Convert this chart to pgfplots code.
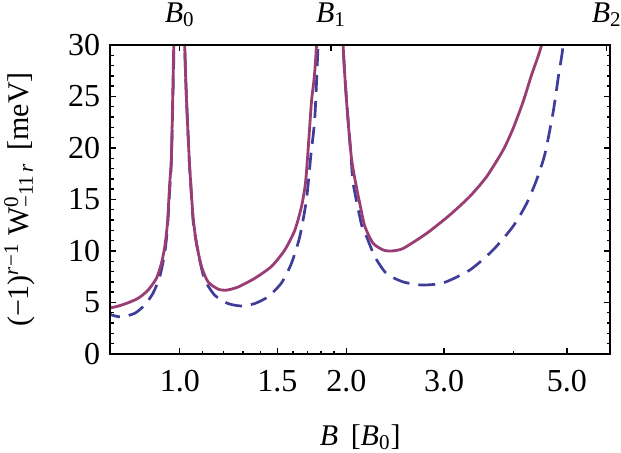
\documentclass[border=0pt]{standalone}
\usepackage{fontspec}
\setmainfont{Liberation Serif}
\usepackage{pgfplots}
\pgfplotsset{compat=1.18}
\definecolor{solidc}{rgb}{0.6,0.24,0.456}
\definecolor{dashc}{rgb}{0.247,0.24,0.6}

\begin{document}
\fontsize{15}{18}\selectfont
\begin{tikzpicture}
\begin{axis}[
  scale only axis, width=249.75pt, height=154.5pt,
  xmode=log, xmin=0.75, xmax=5.98, ymin=0, ymax=30,
  tick align=inside,
  major tick length=2.8pt, minor tick length=1.6pt,
  every tick/.style={black, line width=0.7pt},
  axis line style={line width=1pt},
  /pgf/number format/assume math mode=true,
  tick label style={font=\fontsize{16}{19}\selectfont},
  name=main,
  xtick={1,1.5,2,3,5}, xticklabels={1.0,1.5,2.0,3.0,5.0},
  minor xtick={1.1,1.2,1.3,1.4,1.6,1.7,1.8,1.9,4},
  xtick pos=bottom,
  ytick={0,5,...,30}, minor ytick={0,1,...,30},
  ytick pos=both, yticklabel pos=left,
  xticklabel style={yshift=-3pt},
  every axis x label/.style={at={(axis description cs:0.5,-0.27)}, anchor=center},
  every axis y label/.style={at={(axis description cs:-0.182,0.5)}, anchor=center, rotate=90},
  xlabel={\textit{B}\, [\textit{B}\textsubscript{0}]},
  ylabel={(−1)\textsuperscript{\textit{r}−1} W\rlap{\textsuperscript{0}}\textsubscript{−11\,\textit{r}}\, [meV]},
]
\addplot[dashc, line width=1.35pt, dash pattern=on 8.5pt off 4.5pt, smooth, tension=0.4] coordinates {
(0.732,4.27) (0.753,3.8) (0.785,3.6) (0.8294,3.95) (0.8646,4.76) (0.8949,5.9)
(0.9202,7.5) (0.9395,9.8) (0.9501,12.2) (0.9593,16.0) (0.9661,19.0) (0.9766,30)
(1.0,60) (1.021,30) (1.0394,19.3) (1.0468,16.4) (1.0569,13.0) (1.0644,11.7)
(1.0867,9.1) (1.1096,7.2) (1.1567,5.7) (1.2224,4.9) (1.2924,4.66) (1.366,4.9)
(1.4437,5.56) (1.5264,6.9) (1.5911,8.8) (1.647,11.4) (1.6936,15.0) (1.7241,19.2)
(1.7530,22.9) (1.7773,30) (1.876,60) (1.972,30) (2.0361,19.5) (2.0556,16.6)
(2.1137,13.3) (2.143,12.0) (2.1735,11.4) (2.2498,9.45) (2.3620,7.8) (2.5307,7.0)
(2.732,6.7) (2.9886,6.9) (3.3393,8.15) (3.6792,10.1) (3.9983,12.4) (4.2276,14.6)
(4.4071,16.9) (4.5618,19.4) (4.7220,23.5) (4.8212,26.8) (4.9226,30) (5.1,38)
};
\addplot[solidc, line width=1.4pt, smooth, tension=0.4] coordinates {
(0.732,4.76) (0.753,4.5) (0.7956,4.85) (0.8408,5.4) (0.8765,6.2) (0.9077,7.35)
(0.9267,8.8) (0.9395,10.4) (0.9501,12.7) (0.9593,16.6) (0.9661,19.3) (0.9754,30)
(1.0,60) (1.021,30) (1.0394,19.3) (1.0468,16.6) (1.0569,13.3) (1.0719,10.75)
(1.0944,8.5) (1.1249,7.0) (1.1727,6.3) (1.2143,6.2) (1.2743,6.5) (1.366,7.35)
(1.4642,8.5) (1.5474,10.1) (1.6131,12.0) (1.6587,14.3) (1.6866,16.6) (1.7049,19.8)
(1.7291,24.5) (1.7655,30) (1.876,60) (1.972,30) (2.0361,19.6) (2.0849,16.2)
(2.1137,14.6) (2.1581,12.4) (2.2339,10.75) (2.3288,10.1) (2.4116,10.0) (2.5307,10.25)
(2.7893,11.7) (3.0731,13.5) (3.3393,15.3) (3.5794,17.2) (3.8356,19.8) (3.9983,21.9)
(4.168,24.5) (4.3164,27.1) (4.4997,30) (4.7,35)
};
\end{axis}
\begin{axis}[
  scale only axis, width=249.75pt, height=154.5pt,
  xmode=log, xmin=0.75, xmax=5.98, ymin=0, ymax=30,
  tick align=inside,
  major tick length=2.8pt,
  every tick/.style={black, line width=0.7pt},
  axis line style={line width=1pt},
  xtick={1,1.876,5.9},
  xticklabels={\textit{B}\textsubscript{0},\textit{B}\textsubscript{1},\textit{B}\textsubscript{2}},
  xminorticks=false,
  xtick pos=top, xticklabel pos=top,
  ytick=\empty,
  xticklabel style={yshift=4pt},
]
\addplot[draw=none] coordinates {(1,0)};
\end{axis}
\pgfresetboundingbox
\useasboundingbox ([xshift=-55.25pt,yshift=-49.5pt]main.south west) rectangle ([xshift=5.5pt,yshift=22.5pt]main.north east);
\end{tikzpicture}
\end{document}
